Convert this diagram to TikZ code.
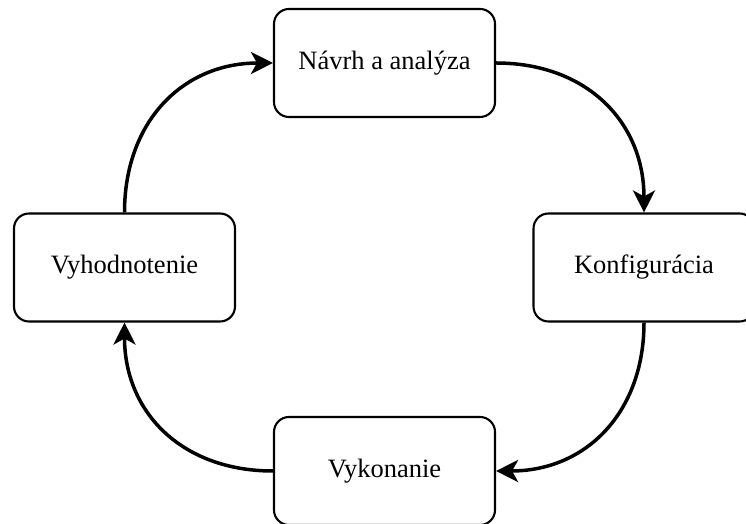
\documentclass[tikz,border=0pt]{standalone}
\usepackage{fontspec}
\setmainfont{Liberation Serif}
\usetikzlibrary{arrows.meta}
\begin{document}
\begin{tikzpicture}[x=1pt,y=1pt,
  stage/.style={draw, line width=2.1pt, rounded corners=15pt,
    minimum width=221pt, minimum height=108pt, inner sep=0pt,
    font=\fontsize{26.5}{31}\selectfont},
  flow/.style={line width=3.5pt, looseness=1.1,
    -{Stealth[length=22pt,width=22pt,inset=6pt]}}]
  \useasboundingbox (0,0) rectangle (746,524);
  \clip (0,0) rectangle (746,524);
  % the four stages of the cycle
  \node[stage] (navrh) at (384.5,461) {Návrh a analýza};
  \node[stage] (konf)  at (644,256.5) {Konfigurácia};
  \node[stage] (vyk)   at (384.5,53)  {Vykonanie};
  \node[stage] (vyh)   at (124.5,256.5) {Vyhodnotenie};
  % curved transitions, clockwise
  \draw[flow] (navrh.east) to[out=0,in=90]   (konf.north);
  \draw[flow] (konf.south) to[out=-90,in=0]  (vyk.east);
  \draw[flow] (vyk.west)   to[out=180,in=-90] (vyh.south);
  \draw[flow] (vyh.north)  to[out=90,in=180] (navrh.west);
\end{tikzpicture}
\end{document}
